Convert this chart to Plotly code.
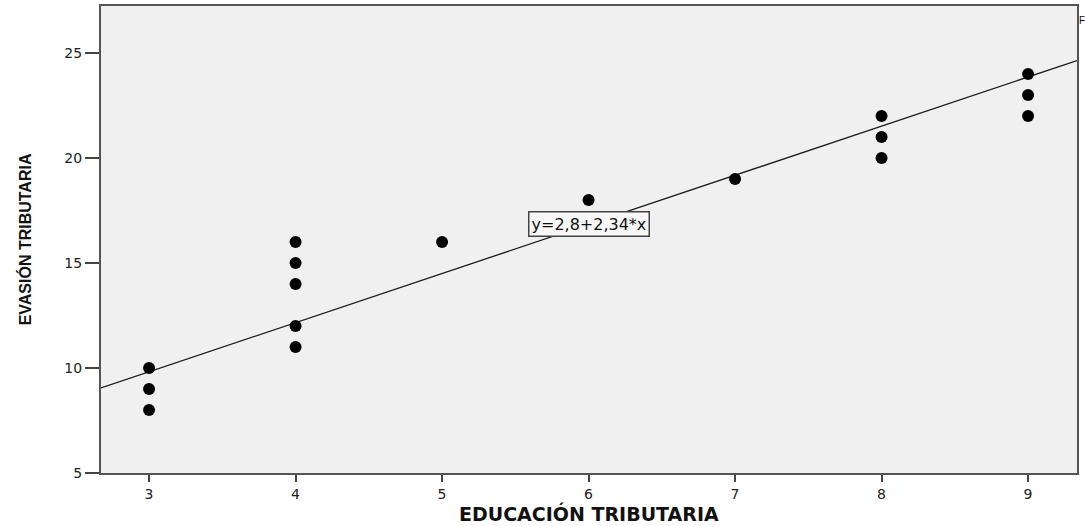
import plotly.graph_objects as go

educacion = [3, 3, 3, 4, 4, 4, 4, 4, 5, 6, 7, 8, 8, 8, 9, 9, 9]
evasion = [10, 9, 8, 16, 15, 14, 12, 11, 16, 18, 19, 22, 21, 20, 24, 23, 22]
intercept = 2.8
slope = 2.34
x_range = [2.672, 9.334]
y_range = [5, 27.24]
x_ticks = [3, 4, 5, 6, 7, 8, 9]
y_ticks = [5, 10, 15, 20, 25]

fig = go.Figure()
fig.add_trace(go.Scatter(
    x=x_range, y=[intercept + slope * v for v in x_range],
    mode="lines", line=dict(color="#1a1a1a", width=1.3),
    showlegend=False, hoverinfo="skip"))
fig.add_trace(go.Scatter(
    x=educacion, y=evasion, mode="markers",
    marker=dict(color="black", size=12, symbol="circle"),
    showlegend=False))

fig.add_annotation(x=6.0, y=16.85, xref="x", yref="y",
                   text="y=2,8+2,34*x", showarrow=False,
                   font=dict(family="DejaVu Sans", size=16, color="#111"),
                   bgcolor="#f8f8f8", bordercolor="#444", borderwidth=1.5, borderpad=2)
fig.add_annotation(x=1.0, y=0.985, xref="paper", yref="paper", xanchor="left",
                   text="F", showarrow=False,
                   font=dict(family="Liberation Sans, Arial", size=10, color="#111"))
fig.add_annotation(x=0.5, y=-0.086, xref="paper", yref="paper", yanchor="middle",
                   text="<b>EDUCACIÓN TRIBUTARIA</b>", showarrow=False,
                   font=dict(family="DejaVu Sans", size=19, color="#111"))
fig.add_annotation(x=-0.078, y=0.5, xref="paper", yref="paper", xanchor="center",
                   text="<b>EVASIÓN TRIBUTARIA</b>", showarrow=False, textangle=-90,
                   font=dict(family="Liberation Sans Narrow, Liberation Sans, Arial", size=16, color="#111"))

fig.update_layout(
    width=1085, height=526,
    margin=dict(l=101, r=8, t=6, b=53),
    paper_bgcolor="white", plot_bgcolor="#f0f0f0",
    font=dict(family="DejaVu Sans", size=14, color="#222"),
    xaxis=dict(range=x_range, tickvals=x_ticks, showgrid=False, zeroline=False,
               automargin=False,
               ticks="outside", ticklen=7, tickcolor="#444", tickwidth=1.5,
               showline=True, linecolor="#555", linewidth=2, mirror=True,
               tickfont=dict(family="DejaVu Sans", size=14, color="#222")),
    yaxis=dict(range=y_range, tickvals=y_ticks, showgrid=False, zeroline=False,
               automargin=False,
               ticks="outside", ticklen=14, tickcolor="#444", tickwidth=1.5,
               showline=True, linecolor="#555", linewidth=2, mirror=True,
               tickfont=dict(family="DejaVu Sans", size=14, color="#222")),
)

fig.write_html("out.html", config={"displayModeBar": False},
               post_script="document.body.style.margin='0';document.body.style.overflow='hidden';")
